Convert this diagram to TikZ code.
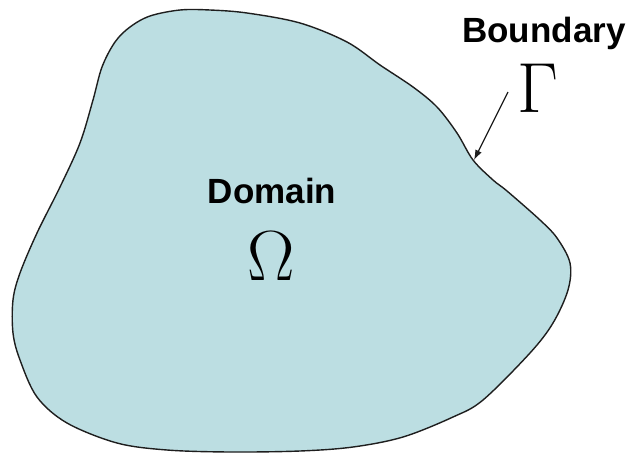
\documentclass[tikz,border=0pt]{standalone}
\usepackage{fix-cm}
\usepackage[no-math]{fontspec}
\newfontfamily\labelfont{Liberation Sans}
\usetikzlibrary{arrows.meta}
\definecolor{domainfill}{RGB}{188,222,226}
\definecolor{edgecol}{RGB}{30,30,30}
\tikzset{
  lbl/.style={inner sep=0pt, font=\labelfont\bfseries\fontsize{35}{35}\selectfont},
  sym/.style={inner sep=0pt, font=\fontsize{71}{71}\selectfont},
  pointer/.style={draw=edgecol, line width=1.2pt, -{Latex[length=10pt,width=7pt]}}
}
\begin{document}
\begin{tikzpicture}[x=1pt,y=-1pt]
\useasboundingbox (0,0) rectangle (630,453);
\draw[fill=domainfill, draw=edgecol, line width=1.4pt]
  plot[smooth cycle, tension=0.55] coordinates {
  (180,10) (210,10) (247,13) (300,23) (347,42) (380,65) (413,87) (437,107)
  (457,133) (473,160) (493,180) (507,191) (540,220) (557,238) (570,263)
  (568,290) (553,323) (530,353) (483,400) (453,417) (403,437) (353,447)
  (300,451) (230,452) (167,450) (117,443) (67,423) (37,397) (20,360)
  (13,333) (13,300) (20,273) (37,233) (60,187) (80,143) (93,100)
  (102,67) (115,42) (130,27) (150,16)};
\node[lbl, anchor=base] (domain) at (272,203) {Domain};
\node[sym, anchor=base] (omega) at (271,280) {$\Omega$};
\node[lbl, anchor=base] (boundary) at (544,42) {Boundary};
\node[sym, anchor=base] (gamma) at (538,112) {$\Gamma$};
\coordinate (pstart) at (508,92);
\coordinate (ptip) at (474,160);
\draw[pointer] (pstart) -- (ptip);
\end{tikzpicture}
\end{document}
